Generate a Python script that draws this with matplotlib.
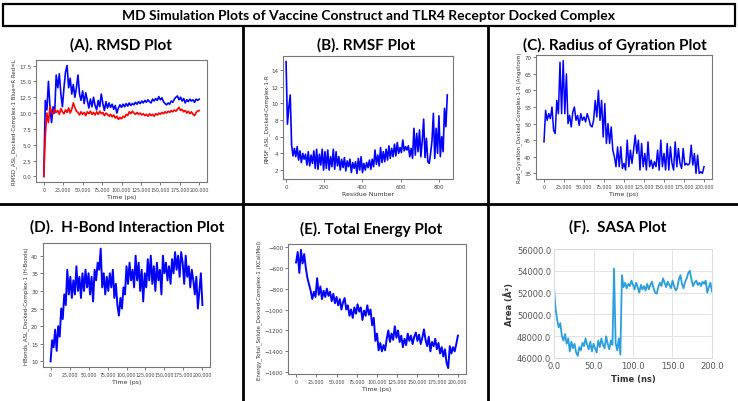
import matplotlib
matplotlib.use("Agg")
import matplotlib.pyplot as plt
import numpy as np
from matplotlib.lines import Line2D
from matplotlib.patches import Rectangle
from matplotlib.ticker import FormatStrFormatter, StrMethodFormatter

W, H = 738, 402

# (A) RMSD, 0..200000 ps
rmsd_receptor = [
    0, 12, 10.5, 15, 11, 8.5, 11, 10, 16, 14, 16.2, 13, 11, 14, 16.5, 17.5, 14, 15.5, 13, 14.5,
    12.5, 14, 16, 13, 12, 13.5, 11.5, 13.2, 12, 10.8, 12.2, 11, 12.5, 11.2, 10.5, 12, 11, 13, 11.5, 10.4,
    11.8, 10.8, 11.6, 10.9, 11.4, 10.6, 11.2, 10, 10.8, 11.3, 10.9, 11.4, 11, 11.5, 11.1, 11.6, 11.2, 11.5, 11.3, 11.7,
    11.4, 11.8, 11.5, 11.9, 11.6, 12, 11.7, 12.1, 11.8, 11.6, 12.2, 11.9, 12.3, 12, 12.6, 12.1, 12.4, 11.8, 11.5, 11.3,
    11.6, 11.4, 11.9, 11.7, 12.2, 12.5, 12.7, 12.1, 12.5, 11.9, 12.3, 11.6, 12.1, 11.8, 12.2, 11.9, 12.1, 11.7, 12.2, 12,
    12.2,
]
rmsd_ligand = [
    0, 6.5, 10, 8.5, 11, 10.2, 9.9, 10.6, 10.1, 10.4, 9.8, 10.7, 10.2, 9.9, 10.5, 10.1, 10.8, 10, 10.6, 11.6,
    10.9, 10.3, 10.1, 9.7, 10.2, 9.8, 10.1, 9.6, 10.2, 9.9, 10.3, 9.8, 10.1, 9.7, 10.2, 9.8, 10.3, 9.9, 10.1, 9.6,
    10, 9.8, 9.5, 9.8, 9.4, 9.7, 9.2, 9.5, 9, 9.3, 9.1, 9.5, 9.3, 9.8, 9.6, 10.2, 9.9, 10.3, 10, 9.8,
    10.1, 9.8, 10, 9.7, 9.9, 9.6, 9.8, 9.5, 9.9, 9.6, 9.8, 9.5, 9.9, 9.7, 10, 9.8, 10.1, 9.9, 10.2, 10,
    10.3, 10.1, 10.4, 10.2, 10.5, 10.3, 10.6, 10.9, 10.4, 10.6, 10.2, 10.4, 10, 10.3, 9.9, 10.2, 9.8, 9.6, 10.1, 10.3,
    10.4,
]

# (B) RMSF per residue, 0..845
rmsf = [
    15, 7.5, 9.5, 11, 5, 3.7, 4.6, 3.6, 4.8, 3.2, 4.3, 2.9, 4.0, 3.3, 3.9, 2.6, 4.2, 2.5, 3.8, 2.8,
    4.3, 2.2, 4.5, 2.1, 3.9, 2.6, 4.5, 2.0, 4.2, 2.2, 4.4, 2.0, 3.6, 2.4, 4.5, 2.1, 4.2, 2.5, 3.6, 2.0,
    3.3, 2.3, 3.5, 1.9, 3.1, 2.4, 3.3, 1.7, 2.9, 2.2, 3.0, 1.6, 3.4, 2.0, 3.6, 1.7, 2.8, 2.0, 2.9, 2.3,
    3.2, 2.1, 3.3, 2.4, 4.4, 2.7, 3.8, 2.5, 4.7, 2.9, 4.2, 3.0, 4.5, 3.2, 4.9, 3.4, 4.6, 3.6, 5.1, 3.7,
    5.3, 4.0, 4.7, 4.1, 5.6, 4.3, 4.8, 4.4, 4.9, 3.6, 4.6, 3.4, 7.0, 3.8, 6.4, 4.2, 6.8, 3.6, 5.5, 8.1,
    3.5, 5.8, 3.0, 2.8, 4.0, 5.5, 8.8, 3.4, 7.0, 4.0, 8.5, 3.6, 6.0, 4.2, 9.4, 7.2, 11.0,
]

# (C) radius of gyration, 0..200000 ps
gyration = [
    44.5, 54, 51, 53, 51.5, 55, 48, 47, 57, 53, 68.5, 53, 69, 53, 65, 50, 52.5, 49, 53.5, 55,
    51, 52.5, 49.5, 53, 51, 52, 50.5, 53, 51.5, 49.5, 49, 51, 57, 52, 60, 51, 57, 46, 56, 44,
    50, 44, 49, 42, 40, 37, 43, 37, 43, 36.5, 38, 36, 45, 37, 42, 38, 42, 46.5, 41, 45,
    36, 44, 37, 41, 36, 44.5, 37, 39, 36.5, 38.5, 37, 42, 36, 45, 37, 41, 36, 44, 36, 43,
    38, 36, 44.5, 37, 42.5, 38, 36.5, 42.5, 37.5, 38, 37.5, 38, 43.5, 37.5, 41, 35, 40.5, 35, 35.5, 35,
    37,
]

# (D) hydrogen bonds, 0..200000 ps
hbonds = [
    10, 16, 14, 19, 13, 20, 17, 25, 22, 29, 26, 36, 29, 34, 28, 33, 29, 37, 30, 34,
    28, 35, 30, 36, 31, 35, 29, 34, 27, 36, 33, 38, 36, 42, 31, 35, 29, 34, 30, 35,
    31, 36, 28, 32, 26, 23, 28, 25, 31, 29, 37, 32, 38, 33, 36, 31, 40, 33, 38, 30,
    36, 27, 35, 31, 39, 33, 40, 32, 37, 30, 38, 33, 36, 29, 40, 35, 38, 33, 37, 32,
    39, 35, 41, 36, 40, 34, 41, 38, 32, 40, 34, 37, 31, 36, 33, 29, 34, 25, 30, 35,
    26,
]

# (E) total solute energy, 0..200000 ps
energy = [
    -550, -450, -650, -430, -560, -470, -600, -700, -760, -820, -900, -830, -880, -700, -860, -780, -900, -820, -880, -800,
    -870, -830, -920, -850, -940, -880, -960, -900, -1000, -930, -890, -1000, -960, -1060, -1000, -1080, -980, -1040, -950, -1020,
    -980, -1100, -1010, -1060, -960, -1050, -1000, -1150, -1080, -1300, -1230, -1390, -1320, -1400, -1340, -1390, -1280, -1200, -1310, -1230,
    -1290, -1160, -1270, -1200, -1310, -1250, -1360, -1280, -1340, -1230, -1300, -1250, -1330, -1260, -1220, -1300, -1240, -1330, -1270, -1190,
    -1290, -1350, -1260, -1400, -1310, -1350, -1280, -1380, -1320, -1420, -1360, -1450, -1380, -1510, -1560, -1350, -1420, -1360, -1400, -1330,
    -1250,
]

# (F) SASA, 0..200 ns
sasa = [
    52500, 50500, 49500, 48800, 49200, 48000, 47600, 48200, 47300, 47800, 46600, 47500, 46900, 47300, 46500, 46200, 47000, 46700, 47400, 47100,
    47800, 47200, 46800, 47500, 46600, 47300, 46900, 46500, 47600, 47000, 47800, 47200, 46900, 48000, 47300, 46800, 47600, 47200, 54200, 47400,
    46700, 47800, 46300, 53600, 52500, 52900, 52400, 52800, 52600, 53100, 52700, 52300, 52900, 52500, 52000, 52700, 52300, 52600, 52200, 52800,
    52300, 52700, 53000, 52400, 52000, 51900, 52500, 52900, 52600, 53300, 52900, 52500, 53000, 52700, 52400, 53100, 52600, 52200, 52400, 53200,
    53600, 52800, 52400, 53000, 53300, 53800, 54000, 53200, 52600, 52900, 53100, 52700, 52900, 52600, 53000, 52800, 53100, 52000, 52500, 52900,
    52100,
]

MAIN_TITLE = "MD Simulation Plots of Vaccine Construct and TLR4 Receptor Docked Complex"
TITLE_FONT = "Lato"


def _axes(fig, left, top, right, bottom):
    return fig.add_axes([left / W, 1 - bottom / H, (right - left) / W, (bottom - top) / H])


def _fig_line(fig, xs, ys, lw=2.0):
    fig.add_artist(Line2D([x / W for x in xs], [1 - y / H for y in ys], color="black", lw=lw,
                          transform=fig.transFigure))


def _style_classic(ax, xlabel, ylabel, comma_x=True):
    for spine in ax.spines.values():
        spine.set_color("#777777")
        spine.set_linewidth(0.8)
    ax.tick_params(labelsize=4, length=2, width=0.5, pad=1.5, colors="#444444")
    ax.set_xlabel(xlabel, fontsize=4.5, labelpad=1.5, color="#333333")
    ax.set_ylabel(ylabel, fontsize=4, labelpad=1.5, color="#333333")
    if comma_x:
        ax.xaxis.set_major_formatter(StrMethodFormatter("{x:,.0f}"))
        ax.set_xticks(np.arange(0, 200001, 25000))
        ax.tick_params(axis="x", labelsize=3.4)


def _panel_title(fig, x, y, text, size=11):
    fig.text(x / W, 1 - y / H, text, ha="center", va="center", fontsize=size,
             fontweight="bold", family=TITLE_FONT)


def main():
    fig = plt.figure(figsize=(W / 100, H / 100), dpi=100)
    fig.patch.set_facecolor("white")

    # frame: title box and panel dividers
    fig.add_artist(Rectangle((3 / W, 1 - 27 / H), 732 / W, 22 / H, fill=False, lw=1.6,
                             edgecolor="black", transform=fig.transFigure))
    fig.text(369 / W, 1 - 16 / H, MAIN_TITLE, ha="center", va="center", fontsize=10,
             fontweight="bold", family=TITLE_FONT)
    _fig_line(fig, [243, 243], [27, 402])
    _fig_line(fig, [488, 488], [27, 402])
    _fig_line(fig, [0, W], [205, 205])

    # (A)
    _panel_title(fig, 121, 45, "(A). RMSD Plot")
    ax = _axes(fig, 36, 61, 207, 183)
    ax.plot(np.linspace(0, 200000, len(rmsd_receptor)), rmsd_receptor, color="blue", lw=1.2)
    ax.plot(np.linspace(0, 200000, len(rmsd_ligand)), rmsd_ligand, color="red", lw=1.2)
    ax.set_yticks(np.arange(0, 17.6, 2.5))
    ax.yaxis.set_major_formatter(FormatStrFormatter("%.1f"))
    _style_classic(ax, "Time (ps)", "RMSD_ASL_Docked-Complex-1 Blue=R Red=L")

    # (B)
    _panel_title(fig, 366, 45, "(B). RMSF Plot")
    ax = _axes(fig, 283, 57, 453, 180)
    ax.plot(np.linspace(0, 845, len(rmsf)), rmsf, color="blue", lw=1.2)
    ax.set_xlim(-16, 875)
    ax.set_xticks(np.arange(0, 801, 200))
    ax.set_yticks(np.arange(2, 15, 2))
    _style_classic(ax, "Residue Number", "RMSF_ASL_Docked-Complex-1-R", comma_x=False)

    # (C)
    _panel_title(fig, 615, 45, "(C). Radius of Gyration Plot")
    ax = _axes(fig, 536, 56, 712, 180)
    ax.plot(np.linspace(0, 200000, len(gyration)), gyration, color="blue", lw=1.1)
    ax.set_yticks(np.arange(35, 71, 5))
    _style_classic(ax, "Time (ps)", "Rad_Gyration_Docked-Complex-1-R (Angstrom)")

    # (D)
    _panel_title(fig, 127, 227, "(D).  H-Bond Interaction Plot")
    ax = _axes(fig, 43, 244, 210, 368)
    ax.plot(np.linspace(0, 200000, len(hbonds)), hbonds, color="blue", lw=1.4)
    ax.set_yticks(np.arange(10, 41, 5))
    _style_classic(ax, "Time (ps)", "HBonds_ASL_Docked-Complex-1 (H-Bonds)")

    # (E)
    _panel_title(fig, 371, 229, "(E). Total Energy Plot")
    ax = _axes(fig, 288, 245, 466, 375)
    ax.plot(np.linspace(0, 200000, len(energy)), energy, color="blue", lw=1.4)
    ax.set_yticks(np.arange(-1600, -399, 200))
    _style_classic(ax, "Time (ps)", "Energy_Total_Solute_Docked-Complex-1 (KCal/Mol)")

    # (F)
    _panel_title(fig, 618, 227, "(F).  SASA Plot")
    ax = _axes(fig, 554, 250, 712, 359)
    ax.plot(np.linspace(0, 200, len(sasa)), sasa, color="#2a9fdc", lw=1.3)
    ax.set_xlim(0, 200)
    ax.set_ylim(46000, 56000)
    ax.set_xticks(np.arange(0, 201, 50))
    ax.set_yticks(np.arange(46000, 56001, 2000))
    ax.xaxis.set_major_formatter(FormatStrFormatter("%.1f"))
    ax.yaxis.set_major_formatter(FormatStrFormatter("%.1f"))
    ax.grid(True, color="#e3e3e3", lw=0.7)
    ax.set_axisbelow(True)
    for spine in ax.spines.values():
        spine.set_color("#dddddd")
    ax.tick_params(labelsize=6, length=0, pad=2, colors="#555555")
    ax.set_xlabel("Time (ns)", fontsize=6, fontweight="bold", color="#333333", labelpad=3)
    ax.set_ylabel("Area (Å²)", fontsize=6, fontweight="bold", color="#333333", labelpad=2)

    fig.savefig("out.png", dpi=100, facecolor="white")
    plt.close(fig)


if __name__ == "__main__":
    main()
